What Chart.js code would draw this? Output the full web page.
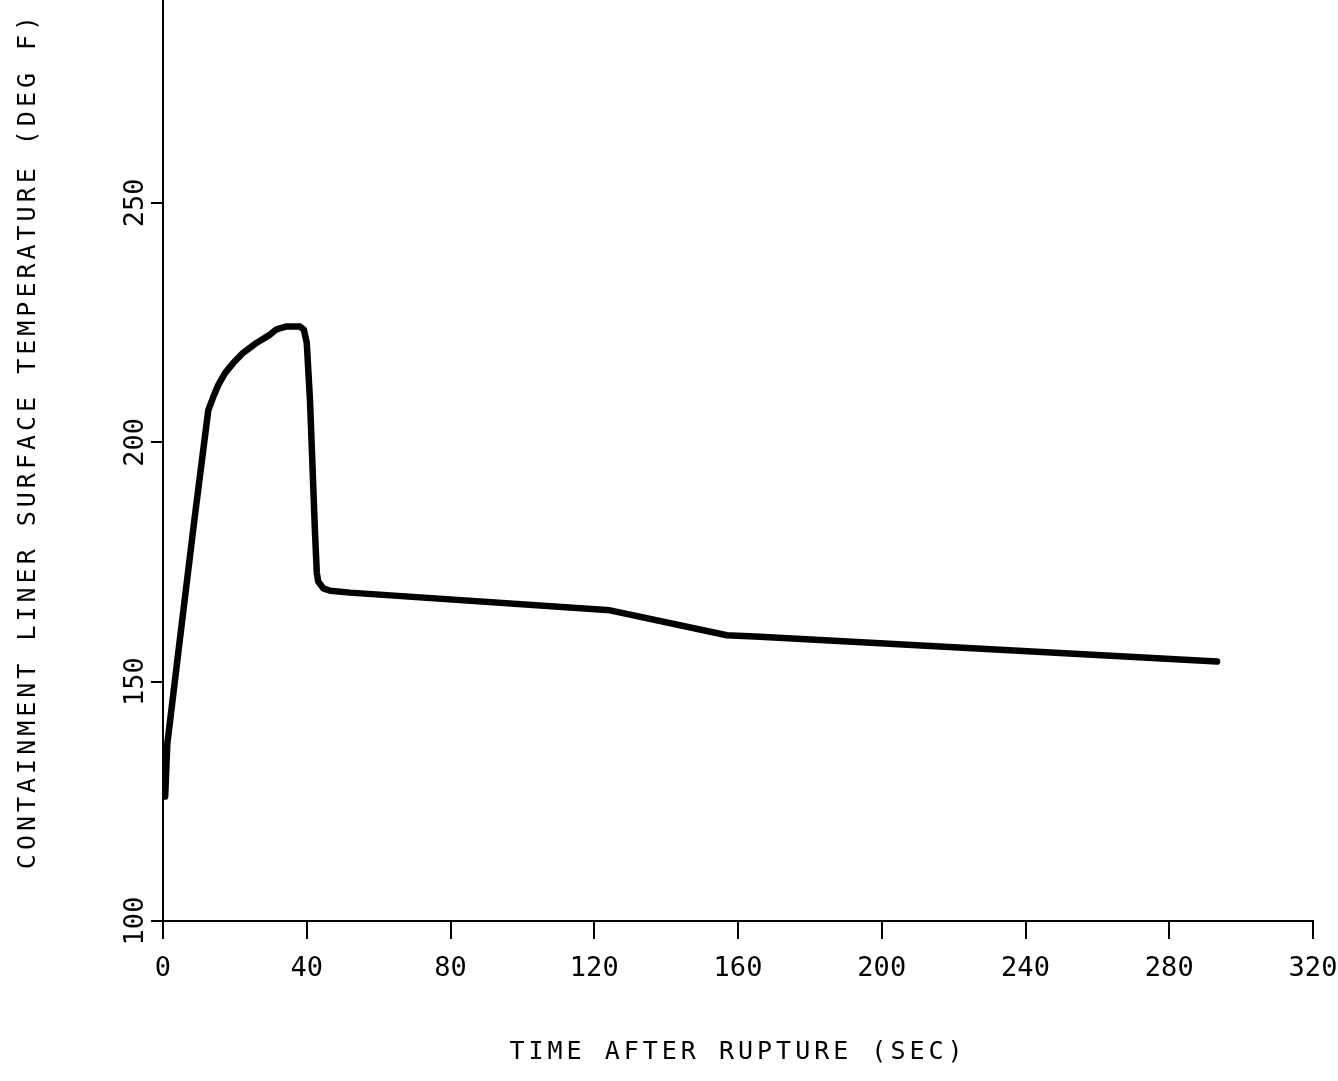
<!DOCTYPE html>
<html>
<head>
<meta charset="utf-8">
<title>Containment liner surface temperature</title>
<script src="https://cdn.jsdelivr.net/npm/chart.js@4/dist/chart.umd.min.js"></script>
<style>
  html, body { margin: 0; padding: 0; background: #ffffff; }
  #wrap { width: 1338px; height: 1081px; position: relative; }
</style>
</head>
<body>
<div id="wrap"><canvas id="liner-temp"></canvas></div>
<script>
// values
var timeSec = [0.6, 1.2, 4.3, 8.8, 12.6, 14.0, 15.4, 17.3, 19.6, 22.3, 26.1, 29.8, 31.6, 34.4, 38.1, 39.2, 40.0,
  40.9, 42.3, 42.8, 43.2, 44.6, 46.5, 52, 124.4, 156.9, 166.1, 293.3];
var linerTempF = [126, 137, 156.4, 184.2, 206.7, 209.5, 212.0, 214.5, 216.6, 218.7, 220.8, 222.5, 223.6, 224.2, 224.2, 223.5, 220.8,
  208.8, 181.1, 172.7, 170.9, 169.5, 169.0, 168.6, 164.9, 159.7, 159.4, 154.2];
var xTicks = [0, 40, 80, 120, 160, 200, 240, 280, 320];
var yTicks = [100, 150, 200, 250];

var fontFamily = "'DejaVu Sans Mono', monospace";

// titles on the original are typed with wide letter spacing
var spacedTitles = {
  id: "spacedTitles",
  beforeDraw: function (chart) {
    Object.keys(chart.scales).forEach(function (id) {
      var scale = chart.scales[id];
      if (scale._spaced) {
        return;
      }
      var orig = scale.drawTitle;
      scale.drawTitle = function () {
        var ctx = this.ctx;
        ctx.save();
        ctx.letterSpacing = "4px";
        if (this.axis === "y") {
          ctx.translate(0, -20);
        }
        orig.call(this);
        ctx.restore();
      };
      scale._spaced = true;
    });
  }
};

function make_chart() {
  var points = [];
  for (var i = 0; i < timeSec.length; i++) {
    points.push({ x: timeSec[i], y: linerTempF[i] });
  }

  var config = {
    type: "line",
    data: {
      datasets: [{
        data: points,
        borderColor: "#000000",
        borderWidth: 6.5,
        borderJoinStyle: "round",
        borderCapStyle: "round",
        pointRadius: 0,
        tension: 0,
        fill: false
      }]
    },
    options: {
      responsive: true,
      maintainAspectRatio: false,
      animation: false,
      layout: { padding: { left: 0, top: 0, right: 25, bottom: 0 } },
      plugins: {
        legend: { display: false },
        tooltip: { enabled: false }
      },
      scales: {
        x: {
          type: "linear",
          min: 0,
          max: 320,
          afterBuildTicks: function (scale) {
            scale.ticks = xTicks.map(function (v) { return { value: v }; });
          },
          afterFit: function (scale) {
            scale.height = 160;
            scale.paddingLeft = 0;
            scale.paddingRight = 0;
          },
          grid: { drawOnChartArea: false, drawTicks: true, tickLength: 18, color: "#000000", lineWidth: 2 },
          border: { display: true, color: "#000000", width: 2 },
          ticks: {
            color: "#000000",
            padding: 14,
            maxRotation: 0,
            autoSkip: false,
            font: { family: fontFamily, size: 27 }
          },
          title: {
            display: true,
            text: "TIME AFTER RUPTURE (SEC)",
            color: "#000000",
            padding: { top: 0, bottom: 14 },
            font: { family: fontFamily, size: 25 }
          }
        },
        y: {
          type: "linear",
          min: 100,
          max: 292.4,
          afterBuildTicks: function (scale) {
            scale.ticks = yTicks.map(function (v) { return { value: v }; });
          },
          afterFit: function (scale) {
            scale.width = 163;
            scale.paddingTop = 0;
            scale.paddingBottom = 0;
          },
          grid: { drawOnChartArea: false, drawTicks: true, tickLength: 12, color: "#000000", lineWidth: 2 },
          border: { display: true, color: "#000000", width: 2 },
          ticks: {
            color: "#000000",
            minRotation: 90,
            maxRotation: 90,
            crossAlign: "center",
            padding: -9,
            autoSkip: false,
            font: { family: fontFamily, size: 27 }
          },
          title: {
            display: true,
            text: "CONTAINMENT LINER SURFACE TEMPERATURE (DEG F)",
            color: "#000000",
            padding: { top: 13, bottom: 0 },
            font: { family: fontFamily, size: 25 }
          }
        }
      }
    },
    plugins: [spacedTitles]
  };

  var ctx = document.getElementById("liner-temp").getContext("2d");
  new Chart(ctx, config);
}

make_chart();
</script>
</body>
</html>
